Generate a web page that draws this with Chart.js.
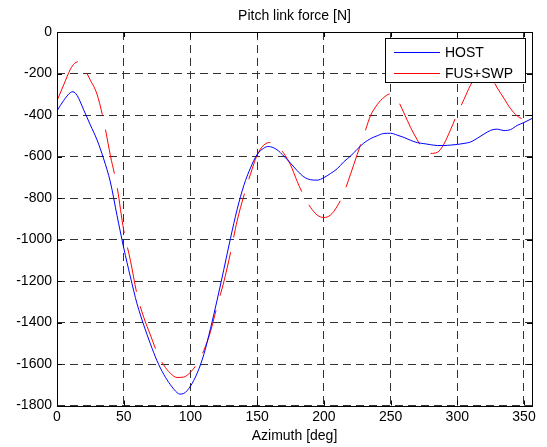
<!DOCTYPE html>
<html>
<head>
<meta charset="utf-8">
<script src="https://cdn.jsdelivr.net/npm/chart.js@4"></script>
<style>
  html, body { margin: 0; padding: 0; background: #fff; }
  #wrap { width: 547px; height: 447px; }
</style>
</head>
<body>
<div id="wrap"><canvas id="forceChart" width="547" height="447"></canvas></div>
<script>
// Pitch link force vs azimuth
const chartTitle = 'Pitch link force [N]';
const xTitle = 'Azimuth [deg]';
const seriesNames = ['HOST', 'FUS+SWP'];
const seriesColors = ['#0000ff', '#ff0000'];
const xTicks = [0, 50, 100, 150, 200, 250, 300, 350];
const yTicks = [0, -200, -400, -600, -800, -1000, -1200, -1400, -1600, -1800];

const hostAzimuth = [0, 5, 10, 12, 15, 20, 25, 30, 35, 40, 45, 50, 55, 60, 65, 70, 75, 80, 85, 90, 92,
    95, 100, 105, 110, 115, 120, 125, 130, 135, 140, 145, 150, 155, 158,
    160, 165, 170, 175, 180, 185, 190, 195, 200, 205, 210, 215, 220, 225, 230, 235, 240, 245, 250, 255,
    260, 265, 270, 275, 280, 285, 290, 295, 300, 305, 310, 315, 320, 325, 330, 335, 340, 345, 350, 356];
const hostForce = [-380, -330, -292, -288, -305, -375, -448, -520, -612, -723, -885, -1040, -1180, -1310, -1412, -1503, -1585, -1650, -1700, -1738, -1745,
    -1742, -1707, -1645, -1555, -1430, -1292, -1145, -995, -855, -740, -655, -590, -560, -552,
    -553, -568, -598, -632, -668, -698, -712, -714, -702, -682, -659, -625, -598, -565, -535, -514, -500, -489, -488, -497,
    -508, -522, -533, -538, -543, -547, -547, -545, -542, -537, -530, -512, -492, -474, -468, -475, -470, -450, -436, -417];

const fusAzimuth = [0, 5, 10, 13, 16, 20, 25, 30, 35, 40, 45, 50, 55, 60, 65, 70, 75, 80, 85, 90, 95,
    100, 105, 110, 115, 120, 125, 130, 135, 140, 145, 150, 155, 160, 165, 170, 175, 180, 185, 190, 195,
    200, 205, 210, 215, 220, 225, 230, 235, 240, 245, 250, 255, 260, 265, 270, 275, 280, 285, 290, 295,
    300, 305, 310, 315, 320, 325, 330, 335, 340, 345, 350, 353, 356];
const fusForce = [-331, -255, -180, -152, -143, -172, -232, -300, -428, -595, -745, -955, -1100, -1265, -1375, -1460, -1545, -1605, -1645, -1665, -1663,
    -1640, -1598, -1535, -1445, -1320, -1205, -1065, -910, -790, -685, -593, -545, -532, -550, -585, -640, -720, -790, -845, -882,
    -894, -882, -840, -775, -685, -590, -497, -403, -350, -315, -298, -325, -390, -460, -520, -571, -585, -580, -540, -470,
    -395, -325, -255, -205, -185, -215, -270, -320, -370, -405, -422, -424, -398];

const FONT = '"Liberation Sans", Arial, Helvetica, sans-serif';

function toPoints(xs, ys) {
    return xs.map((x, i) => ({ x: x, y: ys[i] }));
}

// box, inward ticks, title
const framePlugin = {
    id: 'frame',
    afterDatasetsDraw(chart) {
        const ctx = chart.ctx;
        const a = chart.chartArea;
        const xs = chart.scales.x, ys = chart.scales.y;
        ctx.save();
        ctx.strokeStyle = '#000';
        ctx.lineWidth = 1;
        ctx.setLineDash([]);
        ctx.beginPath();
        xTicks.forEach(v => {
            const px = Math.round(xs.getPixelForValue(v)) + 0.5;
            ctx.moveTo(px, a.bottom); ctx.lineTo(px, a.bottom - 5);
            ctx.moveTo(px, a.top); ctx.lineTo(px, a.top + 5);
        });
        yTicks.forEach(v => {
            const py = Math.round(ys.getPixelForValue(v)) + 0.5;
            ctx.moveTo(a.left, py); ctx.lineTo(a.left + 5, py);
            ctx.moveTo(a.right, py); ctx.lineTo(a.right - 5, py);
        });
        ctx.stroke();
        ctx.strokeRect(Math.round(a.left) + 0.5, Math.round(a.top) + 0.5,
            Math.round(a.right - a.left), Math.round(a.bottom - a.top));
        ctx.restore();
    },
    afterDraw(chart) {
        const ctx = chart.ctx;
        const a = chart.chartArea;
        ctx.save();
        ctx.fillStyle = '#000';
        ctx.font = '14px ' + FONT;
        ctx.textAlign = 'center';
        ctx.textBaseline = 'middle';
        ctx.fillText(chartTitle, (a.left + a.right) / 2, 16);
        ctx.restore();
    }
};

// legend box drawn inside the plot, over the lines
const boxLegend = {
    id: 'boxLegend',
    afterDatasetsDraw(chart) {
        const ctx = chart.ctx;
        const x0 = 385, y0 = 38, w = 140, h = 44;
        ctx.save();
        ctx.setLineDash([]);
        ctx.fillStyle = '#fff';
        ctx.fillRect(x0, y0, w, h);
        ctx.strokeStyle = '#000';
        ctx.lineWidth = 1;
        ctx.strokeRect(x0 + 0.5, y0 + 0.5, w, h);
        ctx.font = '14px ' + FONT;
        ctx.textBaseline = 'middle';
        ctx.textAlign = 'left';
        seriesNames.forEach((name, i) => {
            const y = y0 + 14 + i * 21;
            ctx.strokeStyle = seriesColors[i];
            ctx.beginPath();
            ctx.moveTo(x0 + 9, y + 0.5);
            ctx.lineTo(x0 + 55, y + 0.5);
            ctx.stroke();
            ctx.fillStyle = '#000';
            ctx.fillText(name, x0 + 60, y + 1);
        });
        ctx.restore();
    }
};

const ctx = document.getElementById('forceChart').getContext('2d');
new Chart(ctx, {
    type: 'line',
    data: {
        datasets: [{
            label: seriesNames[0],
            data: toPoints(hostAzimuth, hostForce),
            borderColor: seriesColors[0],
            borderWidth: 1,
            pointRadius: 0,
            cubicInterpolationMode: 'monotone',
            fill: false
        }, {
            label: seriesNames[1],
            data: toPoints(fusAzimuth, fusForce),
            borderColor: seriesColors[1],
            borderWidth: 1,
            borderDash: [45, 15],
            pointRadius: 0,
            cubicInterpolationMode: 'monotone',
            fill: false
        }]
    },
    options: {
        responsive: false,
        animation: false,
        events: [],
        layout: { padding: { top: 32, right: 15, left: 0, bottom: 0 } },
        plugins: {
            legend: { display: false },
            title: { display: false },
            tooltip: { enabled: false }
        },
        scales: {
            x: {
                type: 'linear',
                min: 0,
                max: 356,
                afterBuildTicks: s => { s.ticks = xTicks.map(v => ({ value: v })); },
                afterFit: s => { s.height = 41.5; },
                ticks: { color: '#000', font: { family: FONT, size: 14 }, padding: 3, maxRotation: 0,
                    callback: v => String(v) },
                grid: { color: '#333', lineWidth: 1, drawTicks: false },
                border: { display: false, dash: [8, 5] },
                title: { display: true, text: xTitle, color: '#000', font: { family: FONT, size: 14 }, padding: { top: 0, bottom: 2 } }
            },
            y: {
                min: -1800,
                max: 0,
                afterBuildTicks: s => { s.ticks = yTicks.map(v => ({ value: v })); },
                afterFit: s => { s.width = 57; },
                ticks: { color: '#000', font: { family: FONT, size: 14 }, padding: 5,
                    callback: v => String(v) },
                grid: { color: '#333', lineWidth: 1, drawTicks: false },
                border: { display: false, dash: [8, 5] }
            }
        }
    },
    plugins: [framePlugin, boxLegend]
});
</script>
</body>
</html>
